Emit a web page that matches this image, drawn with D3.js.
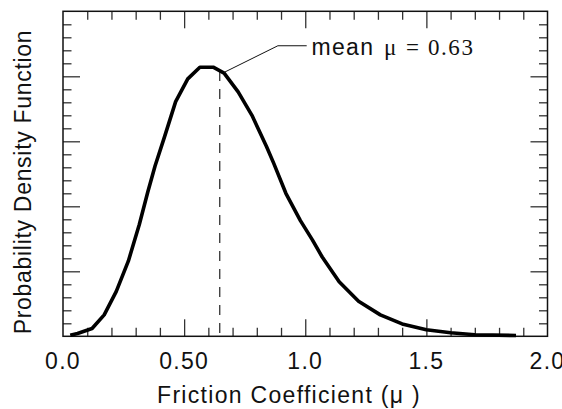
<!DOCTYPE html>
<html>
<head>
<meta charset="utf-8">
<script src="https://cdn.jsdelivr.net/npm/d3@7"></script>
<style>
  html, body { margin: 0; padding: 0; background: #fff; }
  svg { display: block; }
</style>
</head>
<body>
<svg id="chart" width="562" height="409"></svg>
<script>
// ---- data ----
const curveX = [0.03, 0.06, 0.12, 0.17, 0.22, 0.27, 0.315, 0.35, 0.38, 0.42, 0.465, 0.515, 0.565, 0.62, 0.665, 0.723, 0.78, 0.84, 0.87, 0.92, 0.98, 1.03, 1.07, 1.14, 1.22, 1.31, 1.40, 1.50, 1.60, 1.70, 1.87];
const curveY = [0.008, 0.022, 0.06, 0.165, 0.345, 0.58, 0.86, 1.11, 1.31, 1.54, 1.805, 1.98, 2.07, 2.07, 2.025, 1.88, 1.70, 1.46, 1.33, 1.10, 0.89, 0.74, 0.61, 0.42, 0.27, 0.165, 0.095, 0.05, 0.027, 0.012, 0.006];
const xTickValues = [0, 0.5, 1.0, 1.5, 2.0];
const xTickLabels = ["0.0", "0.50", "1.0", "1.5", "2.0"];
const xMinorTicks = [0.1, 0.2, 0.3, 0.4, 0.6, 0.7, 0.8, 0.9, 1.1, 1.2, 1.3, 1.4, 1.6, 1.7, 1.8, 1.9];
const xMajorTicks = [0.5, 1.0, 1.5];
const yMinorTicks = [0.1, 0.2, 0.3, 0.4, 0.6, 0.7, 0.8, 0.9, 1.1, 1.2, 1.3, 1.4, 1.6, 1.7, 1.8, 1.9, 2.1, 2.2, 2.3, 2.4];
const yMajorTicks = [0.5, 1.0, 1.5, 2.0];
const meanX = 0.647;
const meanTopY = 2.04;
const leaderAnchor = [0.665, 2.03];
const leaderElbow = [0.887, 2.235];
const leaderEndX = 1.006;
const xTitle = "Friction Coefficient (\u03bc )";
const yTitle = "Probability Density Function";
const annotationWord = "mean";
const annotationSymbol = "\u03bc";
const annotationValue = "= 0.63";

// ---- layout ----
const svg = d3.select("#chart");
const x = d3.scaleLinear().domain([0, 2]).range([63, 547.5]);
const y = d3.scaleLinear().domain([0, 2.5]).range([336.3, 11.3]);
const SANS = "'Liberation Sans', Arial, Helvetica, sans-serif";
const SERIF = "'Liberation Serif', 'Times New Roman', serif";
const tickColor = "#333";

function styleAxis(g) {
  g.select(".domain").remove();
  g.selectAll(".tick line").attr("stroke", tickColor).attr("stroke-width", 1.3);
  g.selectAll(".tick text").remove();
}

const minorLen = 8.5, majorLen = 17;
// bottom
svg.append("g").attr("transform", `translate(0,${y(0)})`)
  .call(d3.axisBottom(x).tickValues(xMinorTicks).tickSize(-minorLen).tickFormat("")).call(styleAxis);
svg.append("g").attr("transform", `translate(0,${y(0)})`)
  .call(d3.axisBottom(x).tickValues(xMajorTicks).tickSize(-majorLen).tickFormat("")).call(styleAxis);
// top
svg.append("g").attr("transform", `translate(0,${y(2.5)})`)
  .call(d3.axisTop(x).tickValues(xMinorTicks).tickSize(-minorLen).tickFormat("")).call(styleAxis);
svg.append("g").attr("transform", `translate(0,${y(2.5)})`)
  .call(d3.axisTop(x).tickValues(xMajorTicks).tickSize(-majorLen).tickFormat("")).call(styleAxis);
// left
svg.append("g").attr("transform", `translate(${x(0)},0)`)
  .call(d3.axisLeft(y).tickValues(yMinorTicks).tickSize(-minorLen).tickFormat("")).call(styleAxis);
svg.append("g").attr("transform", `translate(${x(0)},0)`)
  .call(d3.axisLeft(y).tickValues(yMajorTicks).tickSize(-majorLen).tickFormat("")).call(styleAxis);
// right
svg.append("g").attr("transform", `translate(${x(2)},0)`)
  .call(d3.axisRight(y).tickValues(yMinorTicks).tickSize(-minorLen).tickFormat("")).call(styleAxis);
svg.append("g").attr("transform", `translate(${x(2)},0)`)
  .call(d3.axisRight(y).tickValues(yMajorTicks).tickSize(-majorLen).tickFormat("")).call(styleAxis);

// frame
svg.append("rect")
  .attr("x", x(0)).attr("y", y(2.5))
  .attr("width", x(2) - x(0)).attr("height", y(0) - y(2.5))
  .attr("fill", "none").attr("stroke", "#111").attr("stroke-width", 1.5);

// x tick labels
svg.append("g").selectAll("text").data(xTickValues).join("text")
  .attr("x", d => x(d)).attr("y", 368.5)
  .attr("text-anchor", "middle")
  .attr("font-family", SANS).attr("font-size", 23).attr("letter-spacing", 1.3)
  .attr("fill", "#111")
  .text((d, i) => xTickLabels[i]);

// axis titles
svg.append("text")
  .attr("x", 289).attr("y", 403)
  .attr("text-anchor", "middle")
  .attr("font-family", SANS).attr("font-size", 23).attr("letter-spacing", 1.3)
  .attr("fill", "#111")
  .text(xTitle);

svg.append("text")
  .attr("transform", `translate(31,182) rotate(-90)`)
  .attr("text-anchor", "middle")
  .attr("font-family", SANS).attr("font-size", 23).attr("letter-spacing", 0.7)
  .attr("fill", "#111")
  .text(yTitle);

// mean dashed line
svg.append("line")
  .attr("x1", x(meanX)).attr("x2", x(meanX))
  .attr("y1", y(meanTopY)).attr("y2", y(0))
  .attr("stroke", "#333").attr("stroke-width", 1.3)
  .attr("stroke-dasharray", "10,8");

// curve
const pts = curveX.map((v, i) => [v, curveY[i]]);
svg.append("path")
  .datum(pts)
  .attr("d", d3.line().x(d => x(d[0])).y(d => y(d[1])).curve(d3.curveLinear))
  .attr("fill", "none").attr("stroke", "#000").attr("stroke-width", 3.6)
  .attr("stroke-linejoin", "round").attr("stroke-linecap", "butt");

// leader line
svg.append("path")
  .attr("d", d3.line()([[x(leaderAnchor[0]), y(leaderAnchor[1])], [x(leaderElbow[0]), y(leaderElbow[1])], [x(leaderEndX), y(leaderElbow[1])]]))
  .attr("fill", "none").attr("stroke", "#111").attr("stroke-width", 1);

// annotation text
const ann = svg.append("text").attr("y", 54.5).attr("fill", "#111");
ann.append("tspan").attr("x", 311.5)
  .attr("font-family", SANS).attr("font-size", 23).attr("letter-spacing", 1.3)
  .text(annotationWord);
ann.append("tspan").attr("x", 384)
  .attr("font-family", SERIF).attr("font-size", 23)
  .text(annotationSymbol);
ann.append("tspan").attr("x", 406)
  .attr("font-family", SERIF).attr("font-size", 23).attr("letter-spacing", 1.6)
  .text(annotationValue);
</script>
</body>
</html>
